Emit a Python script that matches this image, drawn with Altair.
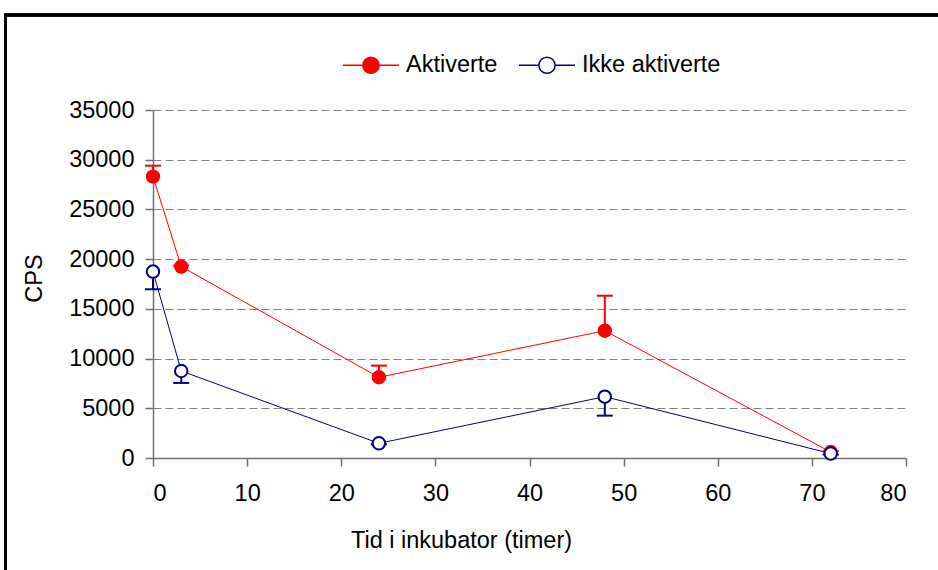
import altair as alt
import pandas as pd

# Measured CPS over time in the incubator, mean with one-sided error bars
timer = [0, 3, 24, 48, 72]
aktiverte = [28300, 19250, 8120, 12800, 600]
aktiverte_feil = [1100, 100, 1170, 3520, 100]
ikke_aktiverte = [18750, 8750, 1480, 6170, 450]
ikke_aktiverte_feil = [1780, 1200, 100, 1910, 100]

serier = ["Aktiverte", "Ikke aktiverte"]
linjefarger = ["#FF0000", "#000080"]
fyllfarger = ["#FF0000", "#FFFFFF"]

rows = []
for t, v, e in zip(timer, aktiverte, aktiverte_feil):
    rows.append({"timer": t, "cps": v, "ende": v + e, "serie": serier[0], "farge": linjefarger[0]})
for t, v, e in zip(timer, ikke_aktiverte, ikke_aktiverte_feil):
    rows.append({"timer": t, "cps": v, "ende": v - e, "serie": serier[1], "farge": linjefarger[1]})
df = pd.DataFrame(rows)

FONT = "Liberation Sans"
GREY = "#707070"

# legend glyph: a short line with a circle in the middle (unit box [-1, 1])
r = 0.29
legend_path = (
    f"M-1,0H{-r} M{r},0H1 "
    f"M{-r},0A{r},{r} 0 1,0 {r},0A{r},{r} 0 1,0 {-r},0Z"
)
legend = alt.Legend(
    title=None,
    orient="none",
    direction="horizontal",
    legendX=189,
    legendY=-74,
    symbolType=legend_path,
    symbolSize=56 * 56,
    symbolStrokeWidth=1.5,
    labelFont=FONT,
    labelFontSize=23.5,
    labelColor="#000000",
    labelOffset=6,
    columnPadding=18,
)

stroke_scale = alt.Scale(domain=serier, range=linjefarger)
fill_scale = alt.Scale(domain=serier, range=fyllfarger)

x = alt.X(
    "timer:Q",
    scale=alt.Scale(domain=[0, 80], nice=False, zero=False),
    axis=alt.Axis(
        values=list(range(0, 81, 10)),
        title="Tid i inkubator (timer)",
        titleX=308,
        titleY=89,
        titleAlign="center",
        titleBaseline="alphabetic",
        grid=False,
        labelPadding=15,
    ),
)
y = alt.Y(
    "cps:Q",
    scale=alt.Scale(domain=[0, 35000], nice=False),
    axis=alt.Axis(
        values=list(range(0, 35001, 5000)),
        format="d",
        title="CPS",
        titleX=-112,
        titleY=168,
        titleAlign="center",
        titleBaseline="alphabetic",
        grid=True,
        gridColor="#808080",
        gridDash=[8, 4],
        gridWidth=1,
        labelPadding=11,
    ),
)

base = alt.Chart(df)

frame = base.mark_rect(fill=None, stroke="#000000", strokeWidth=2.5, clip=False).encode(
    x=alt.value(-147.5), x2=alt.value(800), y=alt.value(-95), y2=alt.value(500)
)

lines = base.mark_line(strokeWidth=1).encode(
    x=x,
    y=y,
    stroke=alt.Stroke("serie:N", scale=stroke_scale, legend=legend),
)

err_rules = base.mark_rule(strokeWidth=2).encode(
    x="timer:Q",
    y="cps:Q",
    y2="ende:Q",
    color=alt.Color("farge:N", scale=None),
)

err_caps = base.mark_tick(orient="horizontal", size=16, thickness=2, opacity=1).encode(
    x="timer:Q",
    y="ende:Q",
    color=alt.Color("farge:N", scale=None),
)

points = base.mark_point(shape="circle", size=155, strokeWidth=2, opacity=1).encode(
    x="timer:Q",
    y="cps:Q",
    stroke=alt.Stroke("serie:N", scale=stroke_scale, legend=legend),
    fill=alt.Fill("serie:N", scale=fill_scale, legend=legend),
)

chart = (
    alt.layer(frame, lines, err_rules, err_caps, points)
    .properties(
        width=753,
        height=348,
        autosize=alt.AutoSizeParams(type="none"),
        padding={"left": 153, "top": 110, "right": 32, "bottom": 112},
        background="#FFFFFF",
    )
    .configure_view(stroke=None)
    .configure_axis(
        labelFont=FONT,
        labelFontSize=23.5,
        labelColor="#000000",
        titleFont=FONT,
        titleFontSize=23.5,
        titleFontWeight="normal",
        titleColor="#000000",
        domainColor=GREY,
        domainWidth=1.5,
        tickColor=GREY,
        tickSize=8,
        tickWidth=1.5,
    )
)

chart.save("out.html", embed_options={"renderer": "svg", "actions": False})
